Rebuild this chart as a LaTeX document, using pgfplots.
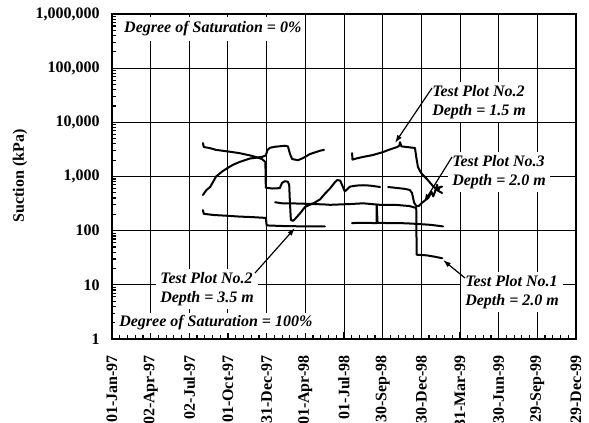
\documentclass[border=0pt]{standalone}
\usepackage{pgfplots}
\pgfplotsset{compat=1.18}
\usetikzlibrary{arrows.meta}
\usepackage{fontspec}
\setmainfont{Liberation Serif}
\newcommand\tw{\fontsize{12}{14.5}\selectfont}
\begin{document}
\begin{tikzpicture}
\path[use as bounding box] (-84pt,-62.25pt) rectangle (357.75pt,254.25pt);
\begin{axis}[
  at={(0pt,0pt)}, anchor=south west,
  width=348pt, height=243.75pt, scale only axis,
  xmin=0, xmax=1092, ymode=log, ymin=1, ymax=1e6,
  xtick={0,91,182,273,364,455,546,637,728,819,910,1001,1092},
  xticklabels={01-Jan-97,02-Apr-97,02-Jul-97,01-Oct-97,31-Dec-97,01-Apr-98,01-Jul-98,30-Sep-98,30-Dec-98,31-Mar-99,30-Jun-99,29-Sep-99,29-Dec-99},
  ytick={1,10,100,1000,10000,100000,1000000},
  yticklabels={1,10,100,{1,000},{10,000},{100,000},{1,000,000}},
  minor x tick num=4,
  tick pos=left, tick align=inside,
  major tick length=5pt, minor tick length=3pt,
  every tick/.style={black, line width=0.9pt},
  grid=major, major grid style={black, line width=0.75pt},
  axis line style={line width=1.6pt},
  tick label style={font=\tw\bfseries},
  x tick label style={rotate=90, anchor=east, inner xsep=12pt, inner ysep=0pt, font=\tw\bfseries},
  y tick label style={anchor=east, inner xsep=9pt, inner ysep=0pt},
  curve/.style={black, solid, line width=1.5pt, line join=round, line cap=round, mark=none},
  clip=false,
]
% rising curve then top segment 1
\addplot[curve] coordinates {(214,455) (222,560) (231,640) (245,1000) (260,1250) (273,1450) (285,1650) (300,1850) (325,2150) (353,2300) (362,2450) (366,3100) (372,3400) (385,3550) (400,3650) (407,3700) (414,3600) (419,2600) (424,2100) (438,2000) (450,2200) (466,2600) (490,3000) (499,3100)};
% descending curve, drop, rise
\addplot[curve] coordinates {(214,4150) (216,3500) (230,3350) (245,3100) (273,2900) (300,2700) (330,2400) (353,2100) (361,1850) (362,620) (377,600) (395,610) (400,760) (407,820) (414,800) (417,700) (419,300) (421,157) (426,152) (431,165) (445,220) (454,273) (477,330) (490,380) (501,480) (513,600) (525,790) (530,860) (537,840) (542,680) (548,530) (560,650) (575,680) (591,690) (607,680) (631,640)};
\addplot[curve] coordinates {(650,640) (666,620) (690,590) (701,563) (706,500) (711,330) (716,285) (722,285) (730,330) (744,400) (752,520) (756,430) (760,520) (765,700) (768,560) (772,640) (777,650)};
% Test Plot No.2, 3.5 m
\addplot[curve] coordinates {(214,240) (216,205) (238,195) (273,188) (300,182) (330,178) (362,172) (364,125) (400,122) (450,120) (501,120)};
% Test Plot No.1, 2.0 m
\addplot[curve] coordinates {(384,335) (400,320) (430,318) (466,312) (500,305) (513,300) (560,310) (591,320) (631,300) (671,298) (700,285) (716,262) (717,36) (741,35) (760,33) (777,31)};
% ~135 line
\addplot[curve] coordinates {(565,138) (590,140) (620,138) (623,138) (623,300) (625,140) (650,138) (690,137) (720,133) (750,128) (779,120)};
% top segment 2 (Test Plot No.2, 1.5 m)
\addplot[curve] coordinates {(565,2700) (566,2050) (575,2150) (591,2300) (614,2490) (638,2830) (650,3080) (671,3500) (676,3700) (678,4300) (681,3600) (694,3500) (713,3360) (716,2300) (720,1500) (725,1250) (730,1100) (741,900) (753,700) (765,560) (777,496)};

\tikzset{ann/.style={fill=white, inner xsep=3pt, inner ysep=2pt, align=left, font=\tw\bfseries\itshape}}
\node[ann, anchor=west, inner ysep=3.5pt] at (rel axis cs:0.0172,0.9538) {Degree of Saturation = 0\%};
\node[ann, anchor=west] at (rel axis cs:0.0065,0.0492) {Degree of Saturation = 100\%};
\node[ann, anchor=west] at (rel axis cs:0.0948,0.1538) {Test Plot No.2\\Depth = 3.5 m};
\node[ann, anchor=west] at (rel axis cs:0.681,0.7292) {Test Plot No.2\\Depth = 1.5 m};
\node[ann, anchor=west] at (rel axis cs:0.7241,0.5138) {Test Plot No.3\\Depth = 2.0 m};
\node[ann, anchor=west] at (rel axis cs:0.7522,0.1446) {Test Plot No.1\\Depth = 2.0 m};
\tikzset{arr/.style={line width=0.9pt, -{Latex[length=6pt,width=4pt]}}}
\draw[arr] (rel axis cs:0.6897,0.7723) -- (rel axis cs:0.6099,0.6031);
\draw[arr] (rel axis cs:0.7328,0.56) -- (rel axis cs:0.6724,0.4215);
\draw[arr] (rel axis cs:0.7608,0.1877) -- (rel axis cs:0.7134,0.2431);
\draw[arr] (rel axis cs:0.3082,0.2031) -- (rel axis cs:0.3944,0.3415);
\node[rotate=90, font=\tw\bfseries] at (rel axis cs:-0.1983,0.5015) {Suction (kPa)};
\end{axis}
\end{tikzpicture}
\end{document}
